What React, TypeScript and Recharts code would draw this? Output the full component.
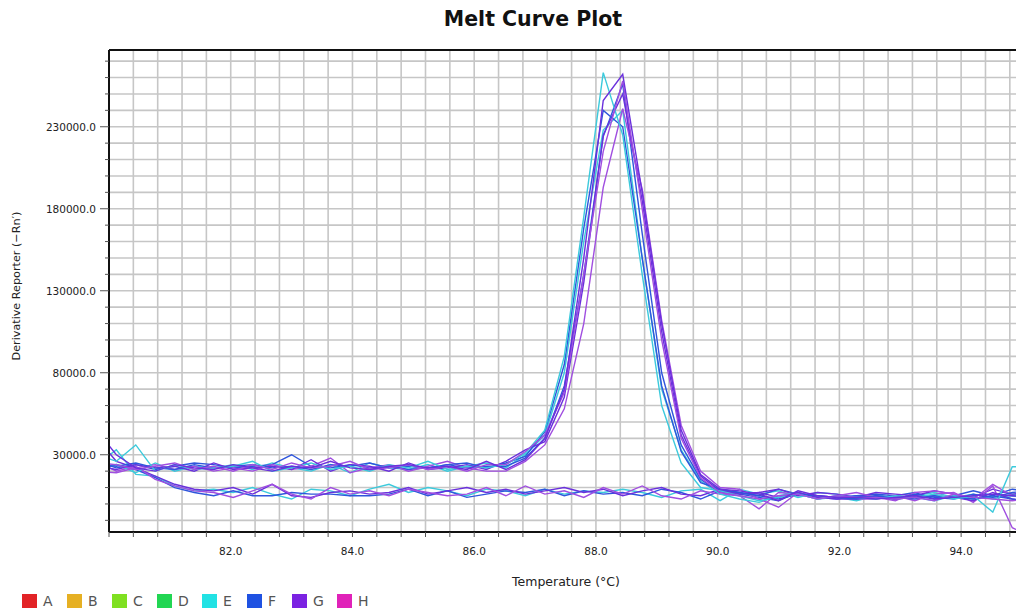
import { LineChart, Line, XAxis, YAxis, CartesianGrid, ReferenceLine } from 'recharts'

// melt temperatures (°C)
const temps = [
  79.8, 80.12, 80.44, 80.76, 81.08, 81.4, 81.72, 82.04, 82.36, 82.68,
  83.0, 83.32, 83.64, 83.96, 84.28, 84.6, 84.92, 85.24, 85.56, 85.88,
  86.2, 86.52, 86.84, 87.16, 87.48, 87.8, 88.12, 88.44, 88.76, 89.08,
  89.4, 89.72, 90.04, 90.36, 90.68, 91.0, 91.32, 91.64, 91.96, 92.28,
  92.6, 92.92, 93.24, 93.56, 93.88, 94.2, 94.52, 94.84, 95.16,
]

// derivative reporter (-Rn') per well
const e1 = [
  30000, 26000, 36000, 20000, 24000, 21000, 22000, 23000, 26000, 20000, 22000, 25000, 21000, 23000, 20000, 24000, 22000, 26000, 21000, 23000, 22000,
  24000, 31000, 45000, 90000, 175000, 263000, 225000, 140000, 60000, 25000, 10000, 8000,
  5000, 2000, 4000, 6000, 3000, 5000, 4000, 3000, 5000, 4000, 6000, 3000, 5000, -5000, 22700, 22700,
]
const e2 = [
  22000, 24000, 19000, 25000, 20000, 23000, 22000, 24000, 21000, 25000, 22000, 20000, 24000, 19000, 25000, 22000, 21000, 24000, 20000, 23000, 25000,
  22000, 30000, 42000, 80000, 160000, 228000, 240000, 150000, 70000, 33000, 14000, 6000,
  3000, 1000, 5000, 7000, 3000, 4000, 2000, 5000, 3000, 4000, 2000, 5000, 3000, 4000, 5000, 4000,
]
const f1 = [
  26000, 22000, 24000, 21000, 23000, 25000, 24000, 22000, 23000, 24000, 30000, 23000, 22000, 24000, 22000, 23000, 21000, 22000, 24000, 22000, 23000,
  23000, 28000, 40000, 72000, 140000, 224000, 256000, 165000, 80000, 36000, 15000, 7000,
  6000, 4000, 2000, 7000, 4000, 3000, 5000, 4000, 3000, 6000, 4000, 3000, 6000, 4000, 7000, 8000,
]
const f2 = [
  24000, 23000, 25000, 22000, 21000, 24000, 22000, 23000, 24000, 22000, 23000, 21000, 24000, 23000, 25000, 22000, 23000, 22000, 24000, 25000, 22000,
  25000, 29000, 44000, 85000, 168000, 240000, 230000, 150000, 72000, 32000, 13000, 9000,
  7000, 5000, 3000, 6000, 5000, 4000, 3000, 5000, 4000, 3000, 5000, 4000, 3000, 5000, 3000, 2000,
]
const g1 = [
  45000, 30000, 22000, 20000, 24000, 22000, 21000, 24000, 22000, 20000, 23000, 22000, 26000, 22000, 21000, 23000, 24000, 22000, 23000, 21000, 26000,
  21000, 27000, 40000, 70000, 150000, 246000, 262000, 190000, 110000, 45000, 18000, 9000,
  8000, 6000, 2000, 8000, 5000, 4000, 4000, 3000, 4000, 5000, 3000, 4000, 5000, 6000, 5000, 4000,
]
const g2 = [
  23000, 21000, 24000, 22000, 23000, 20000, 25000, 21000, 22000, 23000, 21000, 27000, 20000, 24000, 23000, 20000, 25000, 21000, 22000, 24000, 21000,
  26000, 33000, 38000, 65000, 135000, 225000, 250000, 185000, 105000, 42000, 17000, 8000,
  6000, 7000, 4000, 7000, 4000, 3000, 3000, 5000, 3000, 4000, 5000, 4000, 2000, 7000, 3000, 1000,
]
const h1 = [
  20000, 19000, 22000, 24000, 21000, 23000, 20000, 22000, 20000, 24000, 21000, 23000, 28000, 19000, 22000, 24000, 20000, 23000, 26000, 22000, 20000,
  20000, 26000, 36000, 58000, 110000, 193000, 241000, 192000, 112000, 48000, 20000, 10000,
  9000, 3000, -2000, 7000, 4000, 4000, 3000, 3000, 5000, 2000, 6000, 7000, 1000, 11000, -14500, -20000,
]
const h2 = [
  25000, 24000, 21000, 23000, 25000, 21000, 23000, 20000, 24000, 21000, 25000, 22000, 23000, 26000, 21000, 22000, 24000, 21000, 23000, 20000, 24000,
  24000, 32000, 42000, 68000, 140000, 215000, 258000, 180000, 100000, 40000, 16000, 7000,
  5000, 3000, 5000, 6000, 3000, 5000, 4000, 4000, 3000, 4000, 2000, 6000, 4000, 3000, 2000, 3000,
]
// wells without a melt peak
const e3 = [
  24000, 33000, 18000, 17000, 11000, 8000, 9000, 7000, 10000, 6000, 3000, 9000, 8000, 5000, 9000, 12000, 7000, 10000, 8000, 5000,
  9000, 8000, 5000, 9000, 6000, 8000, 7000, 9000, 7000, 4000, 8000, 9000, 2000, 9000, 6000, 8000, 4000, 7000, 6000, 4000,
  6000, 3000, 5000, 7000, 4000, 6000, 3000, 6000, 5000,
]
const f3 = [
  20000, 24000, 21000, 16000, 10000, 7000, 5000, 8000, 5000, 5000, 7000, 6000, 6000, 5000, 5000, 6000, 9000, 5000, 8000, 4000,
  6000, 8000, 7000, 9000, 5000, 8000, 6000, 7000, 5000, 9000, 7000, 3000, 8000, 7000, 5000, 9000, 6000, 5000, 4000, 5000,
  6000, 5000, 7000, 3000, 5000, 8000, 5000, 9000, 7000,
]
const g3 = [
  40000, 26000, 22000, 17000, 12000, 9000, 8000, 10000, 6000, 12000, 5000, 4000, 7000, 8000, 6000, 7000, 10000, 6000, 8000, 10000,
  7000, 9000, 6000, 8000, 10000, 7000, 9000, 5000, 8000, 10000, 6000, 5000, 9000, 6000, 7000, 9000, 5000, 7000, 6000, 4000,
  7000, 6000, 5000, 8000, 6000, 4000, 9000, 6000, 7000,
]
const h3 = [
  26000, 20000, 23000, 15000, 11000, 8000, 7000, 4000, 8000, 12000, 6000, 3000, 10000, 6000, 8000, 5000, 9000, 7000, 5000, 6000,
  10000, 5000, 11000, 6000, 8000, 4000, 10000, 6000, 11000, 5000, 3000, 8000, 6000, 5000, -3000, 7000, 6000, 3000, 5000, 7000,
  4000, 2000, 7000, 8000, 6000, 3000, 12000, 5000, 3000,
]

const legendRows = ['A', 'B', 'C', 'D', 'E', 'F', 'G', 'H']
const legendColors = ['#e22326', '#e6b023', '#7fe021', '#22d653', '#22e2e4', '#1f52e2', '#7b22e2', '#e022b9']

const yLabelTicks = [30000, 80000, 130000, 180000, 230000]
const xLabelTicks = [82, 84, 86, 88, 90, 92, 94]

const CYAN = '#3ccadc'
const BLUE = '#2f56dc'
const PURPLE = '#6a30dc'
const VIOLET = '#a04ee0'

const series = [
  { key: 'e3', color: CYAN, values: e3 },
  { key: 'f3', color: BLUE, values: f3 },
  { key: 'g3', color: PURPLE, values: g3 },
  { key: 'h3', color: VIOLET, values: h3 },
  { key: 'e2', color: CYAN, values: e2 },
  { key: 'f1', color: BLUE, values: f1 },
  { key: 'h1', color: VIOLET, values: h1 },
  { key: 'g2', color: PURPLE, values: g2 },
  { key: 'f2', color: BLUE, values: f2 },
  { key: 'e1', color: CYAN, values: e1 },
  { key: 'h2', color: VIOLET, values: h2 },
  { key: 'g1', color: PURPLE, values: g1 },
]

const data = temps.map((t, i) => {
  const row: Record<string, number> = { t }
  series.forEach(s => { row[s.key] = s.values[i] })
  return row
})

// grid every 0.4 °C and every 10000 units
const xGrid = Array.from({ length: 39 }, (_, k) => Number((80 + k * 0.4).toFixed(1)))
const yGrid = Array.from({ length: 29 }, (_, k) => -10000 + k * 10000)

const FONT = '"DejaVu Sans", Verdana, sans-serif'

const YTick = (props: any) => {
  const { x, y, payload } = props
  const major = yLabelTicks.includes(payload.value)
  return (
    <g>
      <line x1={x - (major ? 9 : 4)} x2={x} y1={y} y2={y} stroke="#555" />
      {major && (
        <text x={x - 13} y={y} dy={4} textAnchor="end" fontSize={10.5} fontFamily={FONT} fill="#222">
          {payload.value.toFixed(1)}
        </text>
      )}
    </g>
  )
}

const XTick = (props: any) => {
  const { x, y, payload } = props
  const major = xLabelTicks.some(v => Math.abs(v - payload.value) < 1e-6)
  return (
    <g>
      <line x1={x} x2={x} y1={y} y2={y + 5} stroke="#555" />
      {major && (
        <text x={x} y={y + 23} textAnchor="middle" fontSize={10.5} fontFamily={FONT} fill="#222">
          {payload.value.toFixed(1)}
        </text>
      )}
    </g>
  )
}

export default function App() {
  return (
    <div style={{ position: 'absolute', left: 0, top: 0, width: 1016, height: 611, overflow: 'hidden', background: '#fff', fontFamily: FONT }}>
      <div style={{ position: 'absolute', left: 0, top: 9, width: 1066, textAlign: 'center', fontSize: 20.5, fontWeight: 'bold', color: '#111', lineHeight: 1 }}>
        Melt Curve Plot
      </div>
      <LineChart width={1030} height={611} data={data} margin={{ top: 50, right: 8, bottom: 0, left: 0 }}>
        <CartesianGrid stroke="#c6c6c6" strokeWidth={1.6} />
        <XAxis
          dataKey="t"
          type="number"
          domain={[80, 95]}
          allowDataOverflow
          ticks={xGrid}
          interval={0}
          height={79}
          tickSize={0}
          tickMargin={0}
          tickLine={false}
          tick={<XTick />}
          axisLine={{ stroke: '#111', strokeWidth: 2 }}
        />
        <YAxis
          type="number"
          domain={[-17100, 276800]}
          allowDataOverflow
          ticks={yGrid}
          interval={0}
          width={109}
          tickSize={0}
          tickMargin={0}
          tickLine={false}
          tick={<YTick />}
          axisLine={{ stroke: '#111', strokeWidth: 2 }}
        />
        <ReferenceLine y={276800} stroke="#111" strokeWidth={2} />
        <ReferenceLine x={95} stroke="#111" strokeWidth={2} />
        {series.map(s => (
          <Line
            key={s.key}
            dataKey={s.key}
            stroke={s.color}
            strokeWidth={1.4}
            dot={false}
            isAnimationActive={false}
          />
        ))}
      </LineChart>
      <div style={{ position: 'absolute', left: 16, top: 286, transform: 'translate(-50%, -50%) rotate(-90deg)', whiteSpace: 'nowrap', fontSize: 11.2, color: '#222' }}>
        Derivative Reporter (−Rn′)
      </div>
      <div style={{ position: 'absolute', left: 0, top: 574, width: 1132, textAlign: 'center', fontSize: 12.5, color: '#222' }}>
        Temperature (°C)
      </div>
      <div style={{ position: 'absolute', left: 22, top: 594, display: 'flex' }}>
        {legendRows.map((r, i) => (
          <div key={r} style={{ width: 45, display: 'flex', alignItems: 'center' }}>
            <span style={{ display: 'inline-block', width: 15, height: 14, background: legendColors[i], marginRight: 6 }} />
            <span style={{ fontSize: 14, color: '#555', lineHeight: '14px' }}>{r}</span>
          </div>
        ))}
      </div>
    </div>
  )
}
